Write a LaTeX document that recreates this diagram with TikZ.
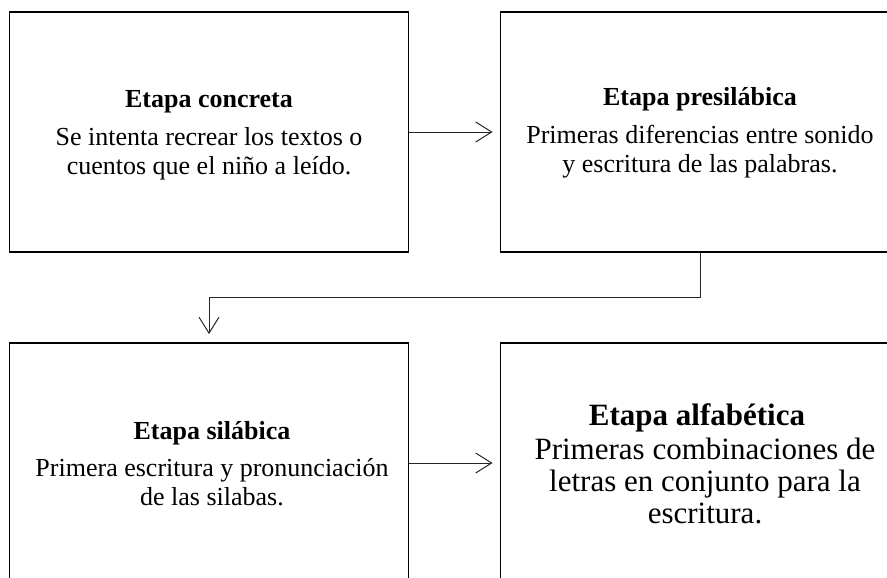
\documentclass[tikz,border=0pt]{standalone}
\usepackage{fontspec}
\setmainfont{Liberation Serif}
\usetikzlibrary{arrows.meta}
\begin{document}
\begin{tikzpicture}[x=1pt,y=-1pt,
  stagebox/.style={draw, line width=1.8pt, minimum width=399pt, minimum height=240pt, inner sep=0pt},
  ttl/.style={font=\fontsize{26}{29}\selectfont\bfseries, anchor=base, inner sep=0pt},
  txt/.style={font=\fontsize{26}{29}\selectfont, align=center, anchor=base, inner sep=0pt},
  ttlbig/.style={font=\fontsize{31}{33}\selectfont\bfseries, anchor=base, inner sep=0pt},
  txtbig/.style={font=\fontsize{31}{32}\selectfont, align=center, anchor=base, inner sep=0pt},
  link/.style={line width=1pt, draw=black!85, -{Straight Barb[length=16pt,width=20pt,line width=1pt]}}
]
\useasboundingbox (0,0) rectangle (887,578);
\clip (0,0) rectangle (887,578);
\node[stagebox] (tl) at (209,132) {};
\node[stagebox] (tr) at (700,132) {};
\node[stagebox] (bl) at (209,463) {};
\node[stagebox] (br) at (700,463) {};

\node[ttl] (t1) at (209,107) {Etapa concreta};
\node[txt] (b1) at (209,174) {Se intenta recrear los textos o\\cuentos que el niño a leído.};
\node[ttl] (t2) at (700,106) {Etapa presilábica};
\node[txt] (b2) at (700,172) {Primeras diferencias entre sonido\\y escritura de las palabras.};
\node[ttl] (t3) at (212,439) {Etapa silábica};
\node[txt] (b3) at (212,505) {Primera escritura y pronunciación\\de las silabas.};
\node[ttlbig] (t4) at (697,425) {Etapa alfabética};
\node[txtbig] (b4) at (705,523) {Primeras combinaciones de\\letras en conjunto para la\\escritura.};

\draw[link, shorten >=7pt] (tl.east) -- (tr.west);
\draw[link, shorten >=8pt] (tr.south) -- ++(0,45) -| (bl.north);
\draw[link, shorten >=7pt] (bl.east) -- (br.west);
\end{tikzpicture}
\end{document}
